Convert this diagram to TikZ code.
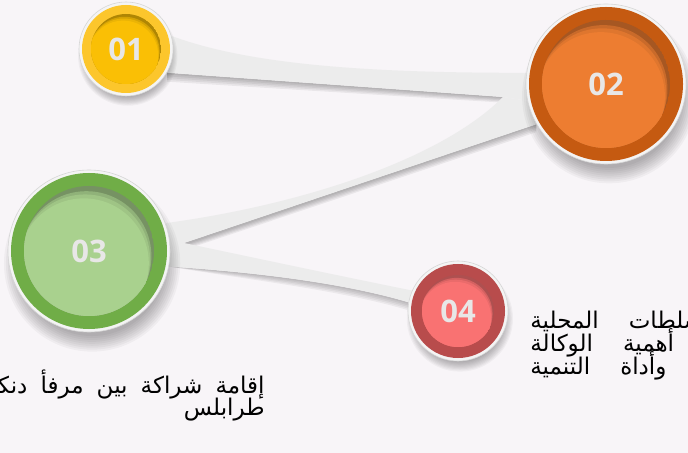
\documentclass[tikz,border=0pt]{standalone}
\usepackage{fontspec}
\usetikzlibrary{calc}
\TeXXeTstate=1
\newfontfamily\arabicfont[Script=Arabic, WordSpace=1.8]{DejaVu Sans}
\newfontfamily\numfont{Open Sans}
\definecolor{pagebg}{HTML}{F8F5F8}
\definecolor{ribbongray}{HTML}{ECECEC}
\definecolor{rimwhite}{HTML}{F4F4F4}
\definecolor{rimedge}{HTML}{D6D6D6}
\definecolor{numgray}{HTML}{E8E7E7}
\definecolor{ringA}{HTML}{FCC62C}
\definecolor{discA}{HTML}{FABF05}
\definecolor{ringB}{HTML}{C55A11}
\definecolor{discB}{HTML}{ED7D31}
\definecolor{ringC}{HTML}{70AD47}
\definecolor{discC}{HTML}{A9D18E}
\definecolor{ringD}{HTML}{B84C4C}
\definecolor{discD}{HTML}{F97272}
\tikzset{
  hub/.style={circle, draw=none, inner sep=0pt, minimum size=#1pt},
  ribbon/.style={fill=ribbongray},
  numlabel/.style={font=\numfont\bfseries\fontsize{15.5}{18}\selectfont, text=numgray},
  arabictext/.style={font=\arabicfont\fontsize{11.5}{13}\selectfont, text=black, inner sep=0pt}
}
% #1 hub, #2 ring radius, #3 disc radius, #4 ring colour, #5 disc colour, #6 number
\newcommand{\badge}[6]{
\begin{scope}[shift={(#1.center)}]
\foreach \k in {0,...,8}
  \fill[black, opacity=0.035] ({0.04*#2},{0.16*#2}) circle ({(1.13-0.025*\k)*#2});
\fill[rimwhite] (0,0) circle ({#2+3});
\draw[rimedge, line width=0.3pt] (0,0) circle ({#2+3});
\fill[#4] (0,0) circle (#2);
\begin{scope}
\clip (0,0) circle (#3);
\fill[#5!70!black] (0,0) circle (#3);
\fill[#5!85!black] ({-0.04*#3},{0.08*#3}) circle (#3);
\fill[#5!94!black] ({-0.06*#3},{0.13*#3}) circle (#3);
\fill[#5] ({-0.08*#3},{0.19*#3}) circle (#3);
\end{scope}
\node[numlabel] (#1-num) at (0,0) {#6};
\end{scope}}

\begin{document}
\begin{tikzpicture}[x=0.5pt, y=-0.5pt]
\useasboundingbox (0,0) rectangle (688,453);
\clip (0,0) rectangle (688,453);
\fill[pagebg] (0,0) rectangle (688,453);
% hubs of the four badges
\node[hub=47] (b01) at (126,49) {};
\node[hub=80] (b02) at (606,84) {};
\node[hub=81] (b03) at (89,251) {};
\node[hub=50] (b04) at (458,311) {};
\coordinate (fold) at (503,97);
\coordinate (notch) at (184,243);
% ribbon shadows
\foreach \k in {1,...,5}
  \fill[black, opacity=0.06] (b01.-30) -- (fold) -- ($(fold)+(-2,{1.1*\k})$) -- ($(b01.-30)+(0,{1.8*\k})$) -- cycle;
\foreach \k in {1,...,5}
  \fill[black, opacity=0.06] (b02.210) -- (notch) -- ($(notch)+(3,{1.2*\k})$) -- ($(b02.210)+(0,{1.6*\k})$) -- cycle;
\foreach \k in {1,...,5}
  \fill[black, opacity=0.05] (b03.-11) .. controls (250,{272+1.6*\k}) and (340,{282+1.6*\k}) .. ($(b04.170)+(0,{1.6*\k})$) -- (b04.170) .. controls (340,282) and (250,272) .. (b03.-11) -- cycle;
% ribbons
\fill[ribbon] (b01.16) .. controls (250,65) and (370,73) .. (b02.172) -- (b02.192) -- (fold) -- (b01.-30) -- cycle;
\fill[ribbon] (fold) .. controls (440,160) and (300,205) .. (b03.20) -- (b03.0) -- (notch) -- (b02.210) -- (b02.192) -- cycle;
\fill[ribbon] (notch) .. controls (260,259) and (340,276) .. (b04.156) -- (b04.170) .. controls (340,282) and (250,272) .. (b03.-11) -- (b03.0) -- cycle;
% badges
\badge{b01}{44}{35}{ringA}{discA}{01}
\badge{b02}{77}{64}{ringB}{discB}{02}
\badge{b03}{78}{65}{ringC}{discC}{03}
\badge{b04}{47}{36}{ringD}{discD}{04}
% right text block
\node[arabictext, anchor=base west] (t1) at (530,328) {\beginR السلطات\hspace{15pt}المحلية\endR};
\node[arabictext, anchor=base west] (t2) at (530,351) {\beginR أهمية\hspace{15pt}الوكالة\endR};
\node[arabictext, anchor=base west] (t3) at (530,374) {\beginR وأداة\hspace{15pt}التنمية\endR};
% bottom text block
\node[arabictext, anchor=base east] (t4) at (265,393) {\beginR إقامة شراكة بين مرفأ دنكرك\endR};
\node[arabictext, anchor=base east] (t5) at (265,415) {\beginR طرابلس\endR};
\end{tikzpicture}
\end{document}
